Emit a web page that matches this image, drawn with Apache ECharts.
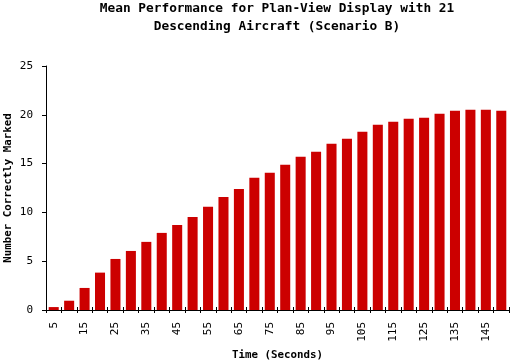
<!DOCTYPE html>
<html>
<head>
<meta charset="utf-8">
<script src="https://cdn.jsdelivr.net/npm/echarts@6/dist/echarts.min.js"></script>
<style>html,body{margin:0;padding:0;background:#fff}#c{width:510px;height:361px}</style>
</head>
<body>
<div id="c"></div>
<script>
var categories = ['5','10','15','20','25','30','35','40','45','50','55','60','65','70','75','80','85','90','95','100','105','110','115','120','125','130','135','140','145','150'];
var meanCorrect = [0.3,0.95,2.26,3.83,5.23,6.05,6.98,7.9,8.72,9.54,10.57,11.59,12.41,13.54,14.06,14.88,15.7,16.21,17.03,17.54,18.26,18.98,19.29,19.6,19.7,20.11,20.42,20.52,20.52,20.42];
var yTicks = [0,5,10,15,20,25];
var titleText = 'Mean Performance for Plan-View Display with 21\nDescending Aircraft (Scenario B)';

var chart = echarts.init(document.getElementById('c'), null, {renderer:'canvas'});
var mono = 'DejaVu Sans Mono';
chart.setOption({
  animation: false,
  backgroundColor: '#fff',
  title: {
    text: titleText,
    left: 277,
    top: -1,
    textAlign: 'center',
    padding: 0,
    textStyle: {fontFamily: mono, fontWeight: 'bold', fontSize: 12.8, lineHeight: 18.5, color: '#000'}
  },
  grid: {left: 46, right: 1, top: 66, bottom: 51, containLabel: false, outerBoundsMode: 'none'},
  xAxis: [{
    type: 'category',
    data: categories,
    name: 'Time (Seconds)',
    nameLocation: 'middle',
    nameGap: 40,
    nameMoveOverlap: false,
    nameTextStyle: {fontFamily: mono, fontWeight: 'bold', fontSize: 10.8, color: '#000', verticalAlign: 'top'},
    axisLine: {lineStyle: {color: '#000', width: 1}},
    axisTick: {show: true, interval: 0, length: 3, lineStyle: {color: '#000'}},
    axisLabel: {interval: 1, rotate: 90, margin: 12, fontFamily: mono, fontSize: 11, color: '#000'},
    splitLine: {show: false}
  }, {
    type: 'category',
    data: categories,
    position: 'bottom',
    axisLine: {show: false},
    axisTick: {show: true, inside: true, interval: 0, length: 3, lineStyle: {color: '#000'}},
    axisLabel: {show: false},
    splitLine: {show: false}
  }],
  yAxis: {
    type: 'value',
    min: yTicks[0],
    max: yTicks[yTicks.length - 1],
    interval: 5,
    name: 'Number Correctly Marked',
    nameLocation: 'middle',
    nameGap: 32.5,
    nameMoveOverlap: false,
    nameTextStyle: {fontFamily: mono, fontWeight: 'bold', fontSize: 10.8, color: '#000'},
    axisLine: {show: true, lineStyle: {color: '#000', width: 1}},
    axisTick: {show: true, length: 4, lineStyle: {color: '#000'}},
    axisLabel: {margin: 13, fontFamily: mono, fontSize: 11, color: '#000'},
    splitLine: {show: false}
  },
  series: [{
    type: 'bar',
    data: meanCorrect,
    xAxisIndex: 0,
    barCategoryGap: '35%',
    itemStyle: {color: '#CC0000'}
  }]
});
</script>
</body>
</html>
